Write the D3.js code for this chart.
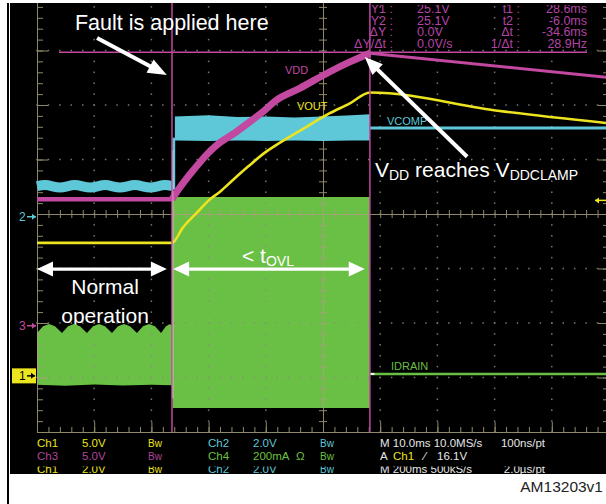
<!DOCTYPE html>
<html><head><meta charset="utf-8">
<script src="https://cdn.jsdelivr.net/npm/d3@7"></script>
<style>html,body{margin:0;padding:0;background:#fff;}svg{display:block;}</style>
</head><body><svg id="c" width="606" height="504"></svg>
<script>
// ---------------- DATA (time in ms, screen centre = 0) ----------------
// VDD (Ch3, 5 V/div)
const vddTime  = [-50, -26.4, -25.0, -23.25, -21.5, -19.75, -18.0, -15.4, -12.8, -10.1, -8.4, -4.0, 1.2, 4.7, 8.2, 49.5];
const vddVolts = [11.6, 11.6, 12.7, 13.9, 15.0, 16.0, 16.8, 17.7, 18.7, 19.8, 20.6, 21.8, 23.3, 24.2, 25.0, 22.8];
// VOUT (Ch1, 5 V/div)
const voutTime  = [-50, -26.4, -24.5, -22.0, -19.75, -18.0, -15.9, -13.1, -10.1, -8.4, -4.0, 1.2, 4.7, 8.2, 30.9, 49.5];
const voutVolts = [12.2, 12.2, 13.6, 15.0, 16.2, 16.9, 17.9, 19.2, 20.5, 21.1, 22.5, 24.1, 25.0, 26.0, 24.3, 23.2];
// VCOMP (Ch2, 2 V/div)
const cyanPreT  = [-50, -48.6, -46.0, -43.4, -40.7, -38.1, -35.5, -32.9, -30.2, -27.6, -26.3];
const cyanPreV  = [1.12, 1.16, 1.07, 1.16, 1.07, 1.16, 1.07, 1.16, 1.07, 1.16, 1.12];
const cyanStepT = [-26.1, -26.1];
const cyanStepV = [1.0, 2.9];
const cyanBandT  = [-25.9, -20, -15, -10, -5, 0, 5, 8.2];
const cyanBandHi = [3.68, 3.72, 3.66, 3.68, 3.64, 3.68, 3.72, 3.76];
const cyanBandLo = [2.80, 2.78, 2.80, 2.78, 2.80, 2.78, 2.80, 2.80];
const cyanPostT = [8.2, 49.5];
const cyanPostV = [3.26, 3.26];
// IDRAIN (Ch4, 200 mA/div), mA
const greenPreT   = [-50.0, -48.95, -47.9, -46.85, -45.63, -44.58, -43.53, -42.48, -41.26, -40.21, -39.16, -38.11, -36.89, -35.84, -34.79, -33.74, -32.52, -31.47, -30.42, -29.37, -28.32, -27.45, -26.75, -26.4];
const greenPreTop = [163, 188, 196, 188, 163, 188, 196, 188, 163, 188, 196, 188, 163, 188, 196, 188, 163, 188, 196, 188, 163, 188, 196, 190];
const greenPreBotT = [-50, -45, -40, -35, -30, -26.4];
const greenPreBot  = [-27, -30, -26, -29, -27, -28];
const greenFaultT   = [-26.3, 8.2];
const greenFaultTop = [662, 662];
const greenFaultBot = [-112, -112];
const greenPostT = [8.2, 49.5];
const greenPostI = [13, 13];
// cursors
const cursorTimes = [-26.4, 8.2];
const cursorLevel = 25.1;          // Ch3 volts
const cursorSpan  = [-46.15, 46.15];
const triggerLevel = 16.1;         // Ch1 volts
// readouts
const readLabelsL = ["Y1 :", "Y2 :", "\u0394Y :", "\u0394Y/\u0394t :"];
const readValuesL = ["25.1V", "25.1V", "0.0V", "0.0V/s"];
const readLabelsR = ["t1 :", "t2 :", "\u0394t :", "1/\u0394t :"];
const readValuesR = ["28.6ms", "-6.0ms", "-34.6ms", "28.9Hz"];

// ---------------- SETUP ----------------
const YEL = "#ece41e", CYA = "#5ec8d8", MAG = "#c248a0", GRN = "#6abf45", GRAT = "#a8a27e", TXTM = "#b244a4";
const svg = d3.select("#c");
const x  = d3.scaleLinear().domain([-50, 50]).range([37, 609]);
const yd = d3.scaleLinear().domain([-4, 4]).range([432, -4]);
const chans = {ch1:{vdiv:5, off:-2.97}, ch2:{vdiv:2, off:-0.05}, ch3:{vdiv:5, off:-2.05}, ch4:{vdiv:200, off:-3}};
const yv = (ch, v) => yd(chans[ch].off + v / chans[ch].vdiv);
const zip = (ts, vs) => ts.map((t, i) => [t, vs[i]]);
const FONT = "'Liberation Sans', Arial, sans-serif";

svg.append("rect").attr("width", 606).attr("height", 504).attr("fill", "#fff");
svg.append("rect").attr("x", 7).attr("y", 3).attr("width", 2).attr("height", 501).attr("fill", "#000");
svg.append("rect").attr("x", 10).attr("y", 3).attr("width", 596).attr("height", 471).attr("fill", "#000");
const defs = svg.append("defs");
defs.append("clipPath").attr("id", "panel").append("rect").attr("x", 10).attr("y", 3).attr("width", 596).attr("height", 471);
defs.append("clipPath").attr("id", "row3").append("rect").attr("x", 10).attr("y", 466.5).attr("width", 596).attr("height", 7.5);
defs.append("clipPath").attr("id", "row0").append("rect").attr("x", 300).attr("y", 5).attr("width", 306).attr("height", 20);
const g = svg.append("g").attr("clip-path", "url(#panel)");

// text beneath the green trace
const normalT = -38.1;
g.append("text").attr("x", x(normalT)).attr("y", yd(-1.468)).attr("text-anchor", "middle")
  .attr("font-family", FONT).attr("font-size", 21).attr("fill", "#fff").text("Normal");
g.append("text").attr("x", x(normalT)).attr("y", yd(-2.0)).attr("text-anchor", "middle")
  .attr("font-family", FONT).attr("font-size", 21).attr("fill", "#fff").text("operation");

// ---------------- IDRAIN (green) ----------------
const line4 = d3.line().x(d => x(d[0])).y(d => yv("ch4", d[1]));
const prePoly = zip(greenPreT, greenPreTop).concat(zip(greenPreBotT, greenPreBot).reverse());
g.append("path").attr("d", line4(prePoly) + "Z").attr("fill", GRN);
const faultPoly = zip(greenFaultT, greenFaultTop).concat(zip(greenFaultT, greenFaultBot).reverse());
g.append("path").attr("d", line4(faultPoly) + "Z").attr("fill", GRN);
g.append("path").attr("d", line4(zip(greenPostT, greenPostI))).attr("fill", "none").attr("stroke", GRN).attr("stroke-width", 2.5);

// ---------------- GRATICULE ----------------
const minorX = d3.range(-50, 50.001, 2);
const majorX = d3.range(-50, 50.001, 10);
const minorY = d3.range(-4, 4.001, 0.2);
const majorY = d3.range(-4, 4.001, 1);
const gridG = g.append("g").attr("opacity", 0.85);
const dots = gridG.append("g").attr("fill", "#8e8e80");
majorX.filter(v => v !== -50 && v !== 0 && v !== 50).forEach(xm => {
  minorY.forEach(yy => dots.append("rect").attr("x", x(xm) - 0.75).attr("y", yd(yy) - 0.75).attr("width", 1.5).attr("height", 1.5));
});
majorY.filter(v => v !== -4 && v !== 0 && v !== 4).forEach(ym => {
  minorX.forEach(xx => dots.append("rect").attr("x", x(xx) - 0.75).attr("y", yd(ym) - 0.75).attr("width", 1.5).attr("height", 1.5));
});
function drawAxis(axis, tr) {
  gridG.append("g").attr("transform", tr).call(axis).call(s => {
    s.selectAll("line").attr("stroke", GRAT);
    s.select(".domain").attr("stroke", GRAT);
    s.selectAll("text").remove();
  });
}
const noF = "";
drawAxis(d3.axisRight(yd).tickValues(minorY).tickSize(6).tickSizeOuter(0).tickFormat(noF), `translate(${x(-50)},0)`);
drawAxis(d3.axisRight(yd).tickValues(majorY).tickSize(11).tickSizeOuter(0).tickFormat(noF), `translate(${x(-50)},0)`);
drawAxis(d3.axisLeft(yd).tickValues(minorY).tickSize(6).tickSizeOuter(0).tickFormat(noF), `translate(${x(50)},0)`);
drawAxis(d3.axisLeft(yd).tickValues(majorY).tickSize(11).tickSizeOuter(0).tickFormat(noF), `translate(${x(50)},0)`);
drawAxis(d3.axisTop(x).tickValues(minorX).tickSize(5).tickSizeOuter(0).tickFormat(noF), `translate(0,${yd(-4)})`);
drawAxis(d3.axisTop(x).tickValues(majorX).tickSize(10).tickSizeOuter(0).tickFormat(noF), `translate(0,${yd(-4)})`);
drawAxis(d3.axisTop(x).tickValues(minorX).tickSize(4).tickSizeOuter(0).tickFormat(noF), `translate(0,${yd(0)})`);
drawAxis(d3.axisBottom(x).tickValues(minorX).tickSize(4).tickSizeOuter(0).tickFormat(noF), `translate(0,${yd(0)})`);
drawAxis(d3.axisLeft(yd).tickValues(minorY).tickSize(4).tickSizeOuter(0).tickFormat(noF), `translate(${x(0)},0)`);
drawAxis(d3.axisRight(yd).tickValues(minorY).tickSize(4).tickSizeOuter(0).tickFormat(noF), `translate(${x(0)},0)`);

// ---------------- VCOMP (cyan) ----------------
const line2 = d3.line().x(d => x(d[0])).y(d => yv("ch2", d[1])).curve(d3.curveMonotoneX);
g.append("path").attr("d", line2(zip(cyanPreT, cyanPreV))).attr("fill", "none").attr("stroke", CYA).attr("stroke-width", 10);
g.append("path").attr("d", d3.line().x(d => x(d[0])).y(d => yv("ch2", d[1]))(zip(cyanStepT, cyanStepV)))
  .attr("fill", "none").attr("stroke", CYA).attr("stroke-width", 3);
const band = d3.area().x(d => x(d[0])).y0(d => yv("ch2", d[1])).y1(d => yv("ch2", d[2]));
g.append("path").attr("d", band(cyanBandT.map((t, i) => [t, cyanBandLo[i], cyanBandHi[i]]))).attr("fill", CYA);
g.append("path").attr("d", line2(zip(cyanPostT, cyanPostV))).attr("fill", "none").attr("stroke", CYA).attr("stroke-width", 3);

// ---------------- VDD (magenta) ----------------
const line3 = d3.line().x(d => x(d[0])).y(d => yv("ch3", d[1])).curve(d3.curveMonotoneX);
const vddPts = zip(vddTime, vddVolts);
const tF = cursorTimes[0], tC = cursorTimes[1];
g.append("path").attr("d", line3(vddPts.filter(d => d[0] <= tF))).attr("fill", "none").attr("stroke", MAG).attr("stroke-width", 4.5);
g.append("path").attr("d", line3(vddPts.filter(d => d[0] >= tF && d[0] <= tC))).attr("fill", "none").attr("stroke", MAG).attr("stroke-width", 7).attr("stroke-linejoin", "round");
g.append("path").attr("d", line3(vddPts.filter(d => d[0] >= tC))).attr("fill", "none").attr("stroke", MAG).attr("stroke-width", 3);

// ---------------- VOUT (yellow) ----------------
const line1 = d3.line().x(d => x(d[0])).y(d => yv("ch1", d[1])).curve(d3.curveMonotoneX);
g.append("path").attr("d", line1(zip(voutTime, voutVolts))).attr("fill", "none").attr("stroke", YEL).attr("stroke-width", 2.6);

// white edge at fault instant
g.append("line").attr("x1", x(-26.3)).attr("x2", x(-26.3)).attr("y1", yd(1.17)).attr("y2", yd(-3.38))
  .attr("stroke", "#f4f4f4").attr("stroke-width", 1.3);
g.append("line").attr("x1", x(8.2)).attr("x2", x(9.0)).attr("y1", yv("ch4", 13)).attr("y2", yv("ch4", 13))
  .attr("stroke", "#f4f4f4").attr("stroke-width", 2);

// ---------------- CURSORS ----------------
cursorTimes.forEach(t => {
  g.append("line").attr("x1", x(t)).attr("x2", x(t)).attr("y1", 3).attr("y2", yd(-4))
    .attr("stroke", MAG).attr("stroke-width", 1.5);
});
g.append("line").attr("x1", x(cursorSpan[0])).attr("x2", x(cursorSpan[1]))
  .attr("y1", yv("ch3", cursorLevel)).attr("y2", yv("ch3", cursorLevel)).attr("stroke", MAG).attr("stroke-width", 1.5);

// ---------------- TRACE LABELS ----------------
const SCOPEF = "'Liberation Sans', Arial, sans-serif";
[["VDD", -6.64, 2.569, MAG], ["VOUT", -4.55, 1.908, YEL], ["VCOMP", 11.19, 1.633, CYA], ["IDRAIN", 11.89, -2.862, GRN]]
  .forEach(([t, tx, dy, c]) => g.append("text").attr("x", x(tx)).attr("y", yd(dy)).attr("font-family", SCOPEF)
    .attr("font-size", 11).attr("fill", c).text(t));

// ---------------- CHANNEL MARKERS ----------------
function smallArrow(x0, x1, y, col, dir) {
  g.append("line").attr("x1", x0).attr("x2", x1).attr("y1", y).attr("y2", y).attr("stroke", col).attr("stroke-width", 1.5);
  const tip = dir > 0 ? x1 : x0;
  g.append("path").attr("d", `M${tip},${y} L${tip - dir * 4},${y - 3} L${tip - dir * 4},${y + 3} Z`).attr("fill", col);
}
const y2m = yv("ch2", 0), y3m = yv("ch3", 0), y1m = yv("ch1", 0);
g.append("text").attr("x", 19).attr("y", y2m + 4.5).attr("font-family", SCOPEF).attr("font-size", 12).attr("fill", CYA).text("2");
smallArrow(27, 36, y2m, CYA, 1);
g.append("text").attr("x", 19).attr("y", y3m + 4.5).attr("font-family", SCOPEF).attr("font-size", 12).attr("fill", MAG).text("3");
smallArrow(27, 36, y3m, MAG, 1);
g.append("rect").attr("x", 12).attr("y", y1m - 7.5).attr("width", 24).attr("height", 15).attr("fill", YEL);
g.append("text").attr("x", 19).attr("y", y1m + 4.5).attr("font-family", SCOPEF).attr("font-size", 12).attr("fill", "#000").text("1");
smallArrow(27, 35, y1m, "#000", 1);
smallArrow(595, 606, yv("ch1", triggerLevel), YEL, -1);

// ---------------- READOUTS ----------------
const rowY = [13, 24.5, 36, 47.5];
rowY.forEach((yy, i) => {
  const rg = i === 0 ? g.append("g").attr("clip-path", "url(#row0)") : g;
  const tt = (xx, s, a) => rg.append("text").attr("x", xx).attr("y", yy).attr("text-anchor", a)
    .attr("font-family", SCOPEF).attr("font-size", 12.5).attr("fill", TXTM).text(s);
  tt(393, readLabelsL[i], "end");
  tt(417, readValuesL[i], "start");
  tt(520, readLabelsR[i], "end");
  tt(587, readValuesR[i], "end");
});

// ---------------- STATUS BAR ----------------
const WH = "#e6e6e6", MG2 = "#b0449c", GR2 = "#6cc040";
const statusRows = [
  [["Ch1", 37, YEL], ["5.0V", 82, YEL], ["Bw", 148, YEL, 10], ["Ch2", 208, CYA], ["2.0V", 253, CYA], ["Bw", 320, CYA, 10], ["M 10.0ms 10.0MS/s", 380, WH], ["100ns/pt", 545, WH, 11.5, "end"]],
  [["Ch3", 37, MG2], ["5.0V", 82, MG2], ["Bw", 148, MG2, 10], ["Ch4", 208, GR2], ["200mA", 253, GR2], ["\u03A9", 296, GR2], ["Bw", 320, GR2, 10], ["A", 380, WH], ["Ch1", 393, YEL], ["\u2044", 424, WH], ["16.1V", 437, WH]],
  [["Ch1", 37, YEL], ["2.0V", 82, YEL], ["Bw", 148, YEL, 10], ["Ch2", 208, CYA], ["2.0V", 253, CYA], ["Bw", 320, CYA, 10], ["M 200ms 500kS/s", 380, WH], ["2.0\u00B5s/pt", 545, WH, 11.5, "end"]]
];
const statusY = [447, 460, 473];
statusRows.forEach((row, ri) => {
  const rg = ri === 2 ? g.append("g").attr("clip-path", "url(#row3)") : g;
  row.forEach(([t, xx, c, fs, a]) => rg.append("text").attr("x", xx).attr("y", statusY[ri])
    .attr("text-anchor", a || "start").attr("font-family", SCOPEF).attr("font-size", fs || 11.5).attr("fill", c).text(t));
});

// ---------------- ANNOTATIONS ----------------
function arrow(t1, d1, t2, d2, head, hw, sw, both) {
  const x1 = x(t1), y1 = yd(d1), x2 = x(t2), y2 = yd(d2);
  const L = Math.hypot(x2 - x1, y2 - y1), ux = (x2 - x1) / L, uy = (y2 - y1) / L;
  const sx = both ? x1 + ux * head : x1, sy = both ? y1 + uy * head : y1;
  g.append("line").attr("x1", sx).attr("y1", sy).attr("x2", x2 - ux * head * 0.8).attr("y2", y2 - uy * head * 0.8)
    .attr("stroke", "#fff").attr("stroke-width", sw);
  const hd = (px, py, vx, vy) => {
    const bx = px - vx * head, by = py - vy * head;
    g.append("path").attr("d", `M${px},${py} L${bx - vy * hw / 2},${by + vx * hw / 2} L${bx + vy * hw / 2},${by - vx * hw / 2} Z`).attr("fill", "#fff");
  };
  hd(x2, y2, ux, uy);
  if (both) hd(x1, y1, -ux, -uy);
}
arrow(-39.5, 3.23, -27.3, 2.55, 19, 15, 4, false);
arrow(25.2, 1.05, 7.3, 2.88, 18, 15, 4, false);
arrow(-50, -1.01, -27.3, -1.01, 16, 15, 3.2, true);
arrow(-26.2, -1.01, 7.3, -1.01, 16, 15, 3.2, true);

g.append("text").attr("x", x(-43.36)).attr("y", yd(3.376)).attr("font-family", FONT).attr("font-size", 21.5)
  .attr("fill", "#fff").text("Fault is applied here");
const vt = g.append("text").attr("x", x(9.09)).attr("y", yd(0.679)).attr("font-family", FONT).attr("font-size", 21).attr("fill", "#fff");
vt.append("tspan").text("V");
vt.append("tspan").attr("font-size", 14).attr("dy", 3).text("DD");
vt.append("tspan").attr("dy", -3).text(" reaches V");
vt.append("tspan").attr("font-size", 14).attr("dy", 3).text("DDCLAMP");
const to = g.append("text").attr("x", x(-14.16)).attr("y", yd(-0.9)).attr("font-family", FONT).attr("font-size", 21).attr("fill", "#fff");
to.append("tspan").text("< t");
to.append("tspan").attr("font-size", 14).attr("dy", 3).text("OVL");

// figure id
svg.append("text").attr("x", 603).attr("y", 492).attr("text-anchor", "end").attr("font-family", FONT)
  .attr("font-size", 15.5).attr("fill", "#222").text("AM13203v1");
</script></body></html>
